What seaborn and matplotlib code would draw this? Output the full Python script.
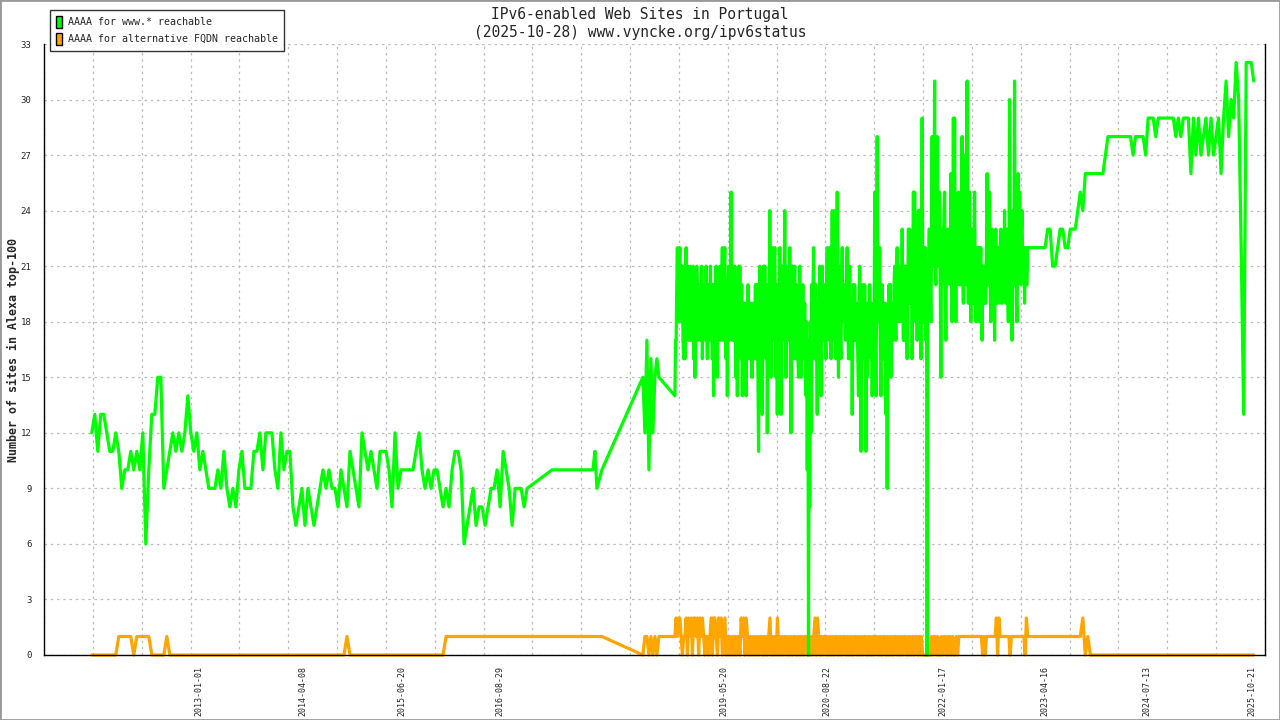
import matplotlib
matplotlib.use('Agg')
import matplotlib.pyplot as plt
import matplotlib.dates as mdates
from matplotlib.patches import Patch, Rectangle
import numpy as np
import pandas as pd
import seaborn as sns

sns.set_style('white')
plt.rcParams['font.family'] = ['DejaVu Sans Mono', 'DejaVu Sans']

GREEN = '#00ff00'
ORANGE = '#ffa500'
www_label = 'AAAA for www.* reachable'
alt_label = 'AAAA for alternative FQDN reachable'

# 2011-09 .. 2016-12, regular samples
green_early = [12, 13, 11, 13, 13, 12, 11, 11, 12, 11,
               9, 10, 10, 11, 10, 11, 10, 12, 6, 10,
               13, 13, 15, 15, 9, 10, 11, 12, 11, 12,
               11, 12, 14, 12, 11, 12, 10, 11, 10, 9,
               9, 9, 10, 9, 11, 9, 8, 9, 8, 10,
               11, 9, 9, 9, 11, 11, 12, 10, 12, 12,
               12, 10, 9, 12, 10, 11, 11, 8, 7, 8,
               9, 7, 9, 8, 7, 8, 9, 10, 9, 10,
               9, 9, 8, 10, 9, 8, 11, 10, 9, 8,
               12, 11, 10, 11, 10, 9, 11, 11, 11, 10,
               8, 12, 9, 10, 10, 10, 10, 10, 11, 12,
               10, 9, 10, 9, 10, 10, 9, 8, 9, 8,
               10, 11, 11, 10, 6, 7, 8, 9, 7, 8,
               8, 7, 8, 9, 9, 10, 8, 11, 10, 9,
               7, 9, 9, 9, 8, 9]
orange_early = ([0] * 9 + [1] * 5 + [0] + [1] * 5 + [0] * 5 + [1]
                + [0] * 59 + [1] + [0] * 32 + [1] * 28)

# sparse measurements 2017
gap_dates = ['2017-04-18', '2017-10-16', '2017-10-25', '2017-11-03', '2017-11-25']
green_gap = [10, 10, 11, 9, 10]
orange_gap = [1, 1, 1, 1, 1]

# summer 2018
green_b0 = [15, 12, 17, 10, 16, 12, 15, 16, 15]
orange_b0 = [0, 1, 1, 0, 1, 0, 1, 0, 1]

# 2018-10 .. 2023-02, noisy near-daily samples
green_dense = [
    14, 17, 17, 20, 22, 18, 18, 21, 22, 19, 18, 21, 21, 17, 16, 20,
    16, 20, 22, 18, 19, 21, 17, 19, 21, 17, 18, 20, 17, 21, 16, 19,
    15, 18, 19, 21, 20, 17, 18, 20, 20, 18, 17, 21, 16, 19, 18, 20,
    20, 17, 21, 18, 16, 20, 19, 17, 19, 21, 17, 19, 16, 20, 14, 18,
    20, 17, 21, 18, 15, 20, 17, 19, 21, 18, 17, 20, 22, 17, 18, 21,
    22, 18, 16, 20, 14, 19, 21, 17, 21, 18, 25, 19, 17, 21, 20, 17,
    21, 17, 15, 19, 14, 18, 21, 17, 21, 18, 16, 20, 14, 18, 19, 17,
    19, 16, 14, 18, 17, 20, 18, 16, 16, 19, 18, 15, 15, 19, 18, 16,
    18, 20, 16, 19, 20, 15, 11, 17, 21, 17, 15, 20, 13, 18, 21, 17,
    21, 18, 16, 20, 12, 18, 20, 17, 24, 18, 15, 20, 22, 17, 19, 21,
    22, 18, 15, 20, 13, 19, 20, 17, 22, 17, 13, 19, 21, 17, 18, 20,
    24, 18, 15, 21, 20, 17, 17, 19, 22, 17, 12, 19, 21, 17, 16, 20,
    21, 17, 16, 20, 19, 16, 15, 19, 21, 17, 15, 19, 18, 20, 16, 18,
    19, 17, 14, 18, 10, 17, 0, 16, 8, 18, 12, 20, 17, 19, 22, 18,
    16, 20, 20, 17, 13, 19, 19, 17, 21, 17, 14, 19, 21, 18, 17, 20,
    19, 17, 16, 20, 22, 18, 20, 17, 22, 18, 16, 20, 24, 18, 17, 21,
    24, 18, 16, 20, 25, 18, 15, 20, 21, 17, 16, 20, 22, 18, 18, 20,
    20, 17, 18, 21, 22, 18, 16, 19, 21, 17, 16, 19, 13, 18, 20, 17,
    20, 17, 17, 19, 18, 16, 14, 19, 21, 17, 11, 18, 18, 20, 20, 16,
    20, 17, 11, 18, 15, 19, 19, 17, 20, 17, 16, 19, 14, 18, 19, 17,
    25, 17, 14, 19, 28, 18, 18, 20, 22, 17, 14, 19, 20, 17, 16, 19,
    16, 19, 13, 18, 9, 17, 17, 20, 17, 20, 15, 19, 19, 17, 17, 20,
    21, 18, 17, 20, 22, 18, 19, 21, 18, 21, 21, 19, 23, 19, 17, 21,
    17, 20, 21, 18, 16, 20, 23, 19, 23, 19, 20, 22, 16, 21, 25, 20,
    25, 20, 18, 22, 17, 21, 24, 19, 24, 20, 16, 21, 29, 20, 18, 22,
    19, 22, 17, 21, 0, 20, 20, 23, 23, 20, 18, 22, 28, 21, 21, 24,
    31, 21, 20, 24, 28, 21, 22, 25, 25, 20, 15, 21, 20, 23, 21, 24,
    25, 20, 17, 22, 20, 23, 23, 21, 23, 20, 26, 21, 18, 22, 29, 21,
    29, 21, 18, 22, 21, 24, 25, 20, 24, 20, 20, 23, 28, 21, 19, 23,
    27, 21, 20, 24, 31, 21, 19, 23, 25, 20, 18, 22, 23, 20, 19, 22,
    25, 20, 18, 22, 22, 19, 19, 22, 18, 21, 22, 19, 17, 21, 21, 19,
    21, 19, 19, 22, 26, 20, 20, 22, 25, 20, 18, 22, 23, 20, 20, 22,
    17, 21, 23, 20, 19, 22, 20, 21, 19, 22, 23, 20, 19, 22, 20, 21,
    24, 20, 19, 22, 23, 20, 18, 21, 30, 21, 19, 22, 17, 21, 24, 20,
    31, 21, 22, 19, 18, 22, 26, 21, 25, 21, 20, 23, 24, 21, 21, 22,
    19, 21, 22, 20, 20, 22, 22, 22, 22, 22, 22, 22, 22, 22, 22, 22]
orange_dense = [
    1, 2, 1, 2, 2, 1, 0, 1, 1, 2, 0, 2, 1, 2, 0, 2, 2, 1, 2, 0,
    2, 1, 2, 1, 0, 1, 1, 0, 1, 2, 0, 2, 2, 1, 0, 2, 1, 2, 0, 1,
    2, 0, 1, 0, 1, 0, 1, 0, 1, 0, 1, 1, 0, 2, 1, 2, 0, 2, 1, 0,
    1, 0, 1, 0, 1, 0, 1, 0, 1, 1, 0, 1, 0, 1, 0, 1, 2, 0, 1, 0,
    1, 0, 2, 0, 1, 0, 1, 0, 1, 1, 0, 1, 0, 1, 0, 1, 1, 0, 1, 0,
    1, 0, 1, 0, 1, 1, 0, 1, 0, 1, 0, 1, 2, 0, 2, 1, 0, 1, 0, 1,
    1, 0, 1, 0, 1, 0, 1, 0, 1, 1, 0, 1, 0, 1, 0, 1, 1, 0, 1, 0,
    1, 0, 1, 0, 1, 1, 0, 1, 0, 1, 0, 1, 1, 0, 1, 0, 1, 0, 1, 0,
    1, 1, 0, 1, 0, 1, 0, 1, 1, 0, 1, 0, 1, 0, 1, 0, 1, 1, 0, 1,
    0, 1, 0, 1, 1, 0, 1, 0, 1, 0, 1, 0, 1, 1, 0, 1, 0, 1, 0, 0,
    0, 0, 0, 0, 0, 1, 0, 1, 1, 0, 1, 0, 0, 1, 0, 1, 1, 0, 1, 0,
    1, 0, 1, 0, 0, 1, 0, 1, 1, 1, 1, 1, 1, 1, 1, 1, 1, 1, 1, 1,
    1, 1, 1, 1, 1, 1, 0, 1, 0, 1, 1, 1, 1, 1, 1, 1, 1, 2, 0, 2,
    1, 1, 1, 1, 1, 1, 1, 1, 0, 1, 1, 1, 1, 1, 1, 1, 1, 1, 1, 1,
    0, 2, 1, 1, 1, 1, 1, 1]

# 2023-03 .. 2025-10-28
green_late = [22, 22, 22, 22, 22, 23, 23, 21, 21, 22, 23, 23, 22, 22, 23, 23, 23, 24, 25, 24,
              26, 26, 26, 26, 26, 26, 26, 26, 27, 28, 28, 28, 28, 28, 28, 28, 28, 28, 28, 27,
              28, 28, 28, 28, 27, 29, 29, 29, 28, 29, 29, 29, 29, 29, 29, 29, 28, 29, 28, 29,
              29, 29, 26, 29, 27, 29, 27, 28, 29, 27, 29, 27, 28, 29, 26, 29, 31, 28, 30, 29,
              32, 30, 22, 13, 32, 32, 32, 31]
orange_late = [1] * 18 + [1, 2, 0, 1] + [0] * 66

tick_dates = ['2013-01-01', '2014-04-08', '2015-06-20', '2016-08-29', '2019-05-20',
              '2020-08-22', '2022-01-17', '2023-04-16', '2024-07-13', '2025-10-21']


def series_dates(n_early, n_b0, n_dense, n_late):
    return (list(pd.date_range('2011-09-13', '2016-12-28', periods=n_early))
            + list(pd.to_datetime(gap_dates))
            + list(pd.date_range('2018-05-26', '2018-08-05', periods=n_b0))
            + list(pd.date_range('2018-10-15', '2023-02-25', periods=n_dense))
            + list(pd.date_range('2023-03-02', '2025-10-28', periods=n_late)))


green = green_early + green_gap + green_b0 + green_dense + green_late
orange = orange_early + orange_gap + orange_b0 + orange_dense + orange_late
green_dates = series_dates(len(green_early), len(green_b0), len(green_dense), len(green_late))
orange_dates = series_dates(len(orange_early), len(orange_b0), len(orange_dense), len(orange_late))

df = pd.concat([
    pd.DataFrame({'date': orange_dates, 'sites': orange, 'series': alt_label}),
    pd.DataFrame({'date': green_dates, 'sites': green, 'series': www_label}),
], ignore_index=True)

fig = plt.figure(figsize=(12.8, 7.2), dpi=100)
ax = fig.add_axes([44 / 1280, 65 / 720, 1221 / 1280, 611 / 720])

sns.lineplot(data=df, x='date', y='sites', hue='series',
             hue_order=[alt_label, www_label],
             palette={www_label: GREEN, alt_label: ORANGE},
             estimator=None, linewidth=2.3, legend=False, ax=ax)
for ln in ax.lines:
    ln.set_clip_on(False)

xmin = mdates.date2num(pd.Timestamp('2011-02-13'))
xmax = mdates.date2num(pd.Timestamp('2025-12-17'))
ax.set_xlim(xmin, xmax)
ax.set_ylim(0, 33)
ax.set_yticks(range(0, 34, 3))

major = np.linspace(xmin, xmax, 26)
ax.set_xticks(major, labels=[''] * len(major))
lab_pos = mdates.date2num(pd.to_datetime(tick_dates).to_pydatetime())
ax.set_xticks(lab_pos, labels=tick_dates, minor=True)
ax.tick_params(axis='x', which='minor', length=0, pad=8, labelsize=6, labelrotation=90)
ax.tick_params(axis='x', which='major', direction='inout', length=7, width=1, color='black')
ax.tick_params(axis='y', direction='inout', length=8, width=1, color='black',
               labelsize=6.5, pad=5)

ax.grid(True, which='major', color='#bdbdbd', linestyle=(0, (2, 3)), linewidth=0.9)
ax.grid(False, which='minor')
ax.set_axisbelow(True)

ax.spines['top'].set_visible(False)
for s in ['left', 'bottom', 'right']:
    ax.spines[s].set_color('black')
    ax.spines[s].set_linewidth(1)

ax.set_xlabel('')
ax.set_ylabel('Number of sites in Alexa top-100', fontsize=8.4, fontweight='bold')
ax.yaxis.set_label_coords(-24 / 1221, 0.5)

fig.text(640 / 1280, 1 - 23 / 720,
         'IPv6-enabled Web Sites in Portugal\n(2025-10-28) www.vyncke.org/ipv6status',
         ha='center', va='center', fontsize=10.5, linespacing=1.25)

handles = [Patch(facecolor=GREEN, edgecolor='black', label=www_label),
           Patch(facecolor=ORANGE, edgecolor='black', label=alt_label)]
leg = fig.legend(handles=handles, loc='upper left',
                 bbox_to_anchor=(50 / 1280, 1 - 10 / 720), frameon=True,
                 fancybox=False, edgecolor='black', fontsize=7.2,
                 handlelength=0.6, handleheight=1.5, handletextpad=0.6,
                 borderpad=0.6, labelspacing=0.45, borderaxespad=0)
leg.get_frame().set_linewidth(1)

fig.patches.append(Rectangle((0, 0), 1, 1, transform=fig.transFigure, fill=False,
                             edgecolor='#999999', linewidth=2, zorder=10))

fig.savefig('out.png', dpi=100)
